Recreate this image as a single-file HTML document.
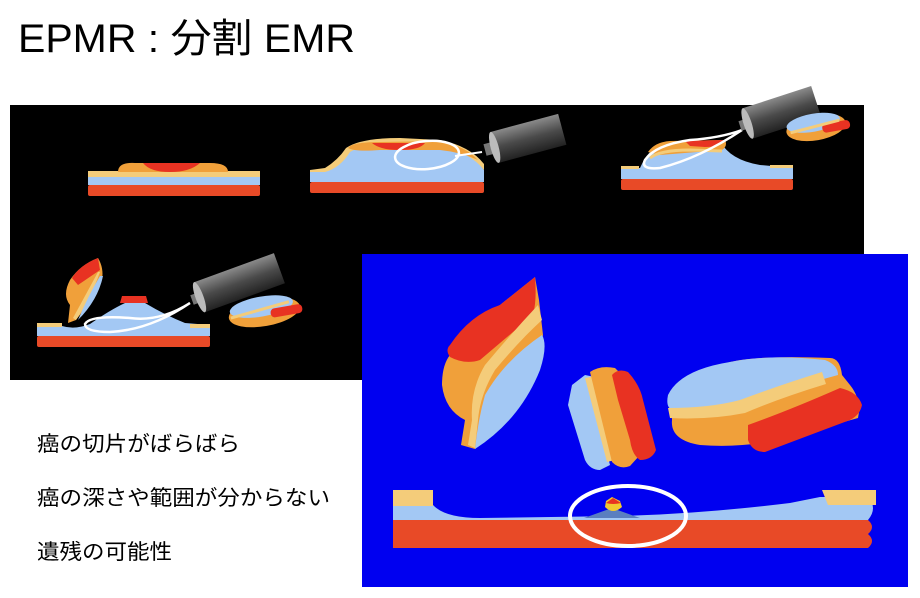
<!DOCTYPE html>
<html><head><meta charset="utf-8"><style>
html,body{margin:0;padding:0;background:#fff;width:920px;height:598px;overflow:hidden}
svg{position:absolute;left:0;top:0}
</style></head><body>
<svg width="920" height="598" viewBox="0 0 920 598" xmlns="http://www.w3.org/2000/svg">
<defs>
<linearGradient id="sc" x1="0" y1="0" x2="0" y2="1">
<stop offset="0" stop-color="#8a8a8a"/><stop offset="0.5" stop-color="#4a4a4a"/><stop offset="1" stop-color="#222"/>
</linearGradient>
</defs>
<text x="18" y="52" font-family="Liberation Sans, Noto Sans CJK JP, sans-serif" font-size="40" fill="#000" textLength="337" lengthAdjust="spacingAndGlyphs">EPMR : 分割 EMR</text>

<!-- black panel -->
<rect x="10" y="105" width="854" height="275" fill="#000"/>

<!-- scene 1 -->
<rect x="88" y="185" width="172" height="11" rx="2" fill="#e84a27"/>
<rect x="88" y="177" width="172" height="8" fill="#a3c8f4"/>
<rect x="88" y="171" width="172" height="6" fill="#f4cc7a"/>
<path d="M118 172 Q118 162 135 163 L210 163 Q228 163 228 172 Z" fill="#f0a03a"/>
<path d="M143 163 L200 163 Q190 172 170 172 Q150 172 143 163 Z" fill="#e83222"/>

<!-- scene 2 -->
<rect x="310" y="182" width="174" height="11" rx="2" fill="#e84a27"/>
<path d="M310 182 L310 170 L325 170 Q340 165 348 148 Q360 140 400 140 L440 142 Q470 150 484 170 L484 182 Z" fill="#a3c8f4"/>
<path d="M310 170 L325 168 Q338 160 346 148 Q360 138 400 138 L440 140 Q470 146 484 164 L484 170 Q470 152 440 146 L400 144 Q360 145 350 152 Q340 168 325 172 L310 172 Z" fill="#f4cc7a"/>
<path d="M348 148 Q352 142 380 142 L440 141 Q465 146 478 160 Q460 152 440 150 L380 150 Q355 152 348 148 Z" fill="#f0a03a"/>
<path d="M372 143 L425 143 Q420 150 400 150 Q380 150 372 143 Z" fill="#e83222"/>
<ellipse cx="427" cy="155" rx="32" ry="14" fill="none" stroke="#fff" stroke-width="2.5" transform="rotate(-5 427 155)"/>
<line x1="455" y1="156" x2="482" y2="152" stroke="#fff" stroke-width="2"/>
<g transform="translate(485,150) rotate(-15)"><rect x="0" y="-6" width="12" height="12" fill="#777"/><rect x="10" y="-16" width="70" height="32" fill="url(#sc)"/><ellipse cx="10" cy="0" rx="4" ry="16" fill="#bbb"/></g>

<!-- scene 3 -->
<rect x="621" y="179" width="172" height="11" rx="2" fill="#e84a27"/>
<path d="M621 179 L621 168 L640 168 Q648 150 660 145 L720 141 Q730 160 760 165 L793 168 L793 179 Z" fill="#a3c8f4"/>
<rect x="621" y="166" width="18" height="3" fill="#f4cc7a"/><rect x="770" y="165" width="23" height="3" fill="#f4cc7a"/>
<path d="M648 152 Q655 142 670 141 L725 140 Q728 146 722 150 L660 155 Z" fill="#f0a03a"/>
<path d="M685 141 L725 140 Q722 147 705 147 L690 146 Z" fill="#e83222"/>
<path d="M650 158 Q660 150 690 150 L722 151" stroke="#f4cc7a" stroke-width="3" fill="none"/>
<path d="M742 130 Q720 138 690 140 Q655 145 645 160 Q640 170 660 168 Q700 158 742 130" fill="none" stroke="#fff" stroke-width="2.5"/>
<g transform="translate(740,126) rotate(-18)"><rect x="0" y="-5" width="10" height="10" fill="#777"/><rect x="8" y="-16" width="72" height="32" fill="url(#sc)"/><ellipse cx="8" cy="0" rx="4" ry="16" fill="#bbb"/></g>
<g transform="rotate(-10 818 127)"><ellipse cx="816" cy="127" rx="30" ry="13" fill="#f0a03a"/><ellipse cx="814" cy="122" rx="27" ry="9" fill="#a3c8f4"/><rect x="822" y="125" width="28" height="9" rx="4" fill="#e83222"/><path d="M790 128 L840 124" stroke="#f4cc7a" stroke-width="3"/></g>

<!-- scene 4 -->
<rect x="37" y="336" width="173" height="11" rx="2" fill="#e84a27"/>
<path d="M37 336 L37 326 L62 326 Q75 330 90 324 Q110 310 125 303 L145 303 Q165 315 185 323 L210 325 L210 336 Z" fill="#a3c8f4"/>
<rect x="37" y="323" width="25" height="4" fill="#f4cc7a"/><rect x="190" y="324" width="20" height="4" fill="#f4cc7a"/>
<path d="M120 303 L122 296 L146 296 L148 303 Z" fill="#e83222"/>
<path d="M190 303 Q150 330 110 332 Q85 332 85 324 Q90 315 130 318 Q160 322 190 303" fill="none" stroke="#fff" stroke-width="2.5"/>
<g transform="translate(192,300) rotate(-20)"><rect x="0" y="-5" width="10" height="10" fill="#777"/><rect x="8" y="-16" width="85" height="32" fill="url(#sc)"/><ellipse cx="8" cy="0" rx="4" ry="16" fill="#bbb"/></g>
<g transform="rotate(-10 265 310)"><ellipse cx="264" cy="312" rx="36" ry="14" fill="#f0a03a"/><ellipse cx="262" cy="306" rx="32" ry="10" fill="#a3c8f4"/><rect x="270" y="310" width="32" height="9" rx="4" fill="#e83222"/><path d="M230 312 L290 306" stroke="#f4cc7a" stroke-width="3"/></g>
<path d="M98 258 Q80 265 70 280 Q62 295 70 305 L68 323 L76 320 Q92 300 102 280 Q104 268 98 258 Z" fill="#f0a03a"/>
<path d="M98 258 L100 270 L78 285 L72 278 Q80 265 98 258 Z" fill="#e83222"/>
<path d="M100 272 Q90 300 76 320 L73 318 Q85 296 98 272 Z" fill="#f4cc7a"/>
<path d="M103 276 Q98 300 78 320 Q88 296 100 276 Z" fill="#a3c8f4"/>

<!-- blue panel -->
<rect x="362" y="254" width="546" height="333" fill="#0000f0"/>
<path d="M393 520 L868 520 Q876 527 868 534 Q876 541 868 548 L393 548 Z" fill="#e84a27"/>
<path d="M393 505 L433 505 Q445 518 480 518 L620 516 Q700 514 790 503 L820 497 L868 497 Q878 508 868 520 L393 520 Z" fill="#a3c8f4"/>
<rect x="393" y="490" width="40" height="16" fill="#f4cc7a"/>
<path d="M822 490 L876 490 L876 505 L828 505 Z" fill="#f4cc7a"/>
<path d="M584 518 L612 508 L640 518 Z" fill="#5a7fc0"/>
<path d="M605 507 Q613 515 622 507 L620 501 L612 497 L606 501 Z" fill="#f2c830"/>
<path d="M606 503 L613 498 L621 503 Q613 505 606 503 Z" fill="#e83222"/>
<ellipse cx="628" cy="516" rx="58" ry="30" fill="none" stroke="#fff" stroke-width="4"/>

<!-- left fragment -->
<path d="M535 277 L539 300 L543 335 Q535 390 475 449 L461 445 L465 420 Q445 410 442 385 Q442 365 450 355 Q470 320 500 305 Z" fill="#f0a03a"/>
<path d="M535 277 Q537 300 533 315 L480 360 Q465 365 450 357 Q445 350 450 345 Q470 315 500 305 Z" fill="#e83222"/>
<path d="M538 305 Q510 335 485 365 Q470 390 472 420 L468 445 L475 448 L478 420 Q480 395 495 370 Q520 340 542 320 Z" fill="#f4cc7a"/>
<path d="M542 335 Q548 345 540 370 Q520 420 475 449 Q478 420 485 395 Q505 360 542 335 Z" fill="#a3c8f4"/>

<!-- middle fragment -->
<path d="M572 385 L585 375 L595 377 L605 445 L610 465 L600 470 Q590 470 585 460 L568 405 Z" fill="#a3c8f4"/>
<path d="M585 378 L596 376 L615 460 L607 462 Z" fill="#f4cc7a"/>
<path d="M590 372 Q600 365 615 368 L622 375 L640 455 L630 466 Q620 470 612 462 Z" fill="#f0a03a"/>
<path d="M612 375 Q618 368 628 372 Q640 385 643 400 L656 450 Q652 460 640 460 Q632 455 630 440 L618 400 Z" fill="#e83222"/>

<!-- right fragment -->
<path d="M672 395 Q690 375 730 362 Q760 355 830 358 Q840 358 842 375 L850 385 Q862 400 858 418 L780 440 Q740 448 700 445 Q670 440 672 420 Z" fill="#f0a03a"/>
<path d="M668 395 Q680 370 730 362 Q770 354 825 360 Q838 365 838 375 L820 380 Q780 392 750 403 Q720 410 675 410 Q665 410 668 395 Z" fill="#a3c8f4"/>
<path d="M668 408 Q710 408 740 400 Q780 385 822 372 L826 384 Q780 398 745 413 Q710 420 670 418 Z" fill="#f4cc7a"/>
<path d="M748 425 Q790 410 840 388 Q858 392 862 405 Q860 415 850 420 Q810 435 765 452 Q752 452 748 440 Z" fill="#e83222"/>

<!-- bullets -->
<g font-family="Liberation Sans, Noto Sans CJK JP, sans-serif" font-size="21" fill="#000">
<text x="37" y="451" textLength="203" lengthAdjust="spacingAndGlyphs">癌の切片がばらばら</text>
<text x="37" y="505" textLength="293" lengthAdjust="spacingAndGlyphs">癌の深さや範囲が分からない</text>
<text x="37" y="559" textLength="135" lengthAdjust="spacingAndGlyphs">遺残の可能性</text>
</g>
</svg>
</body></html>
